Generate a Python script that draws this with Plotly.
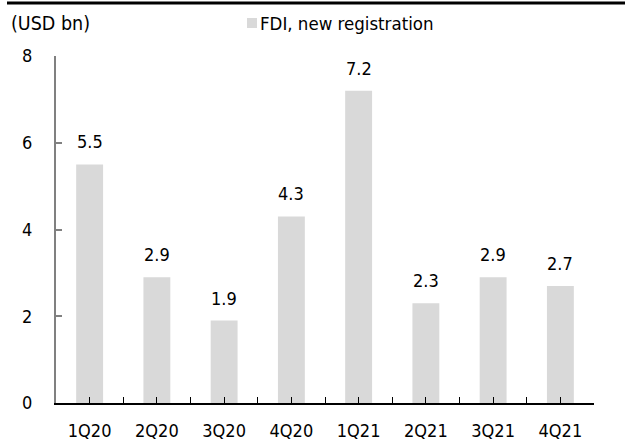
import plotly.graph_objects as go

categories = ["1Q20", "2Q20", "3Q20", "4Q20", "1Q21", "2Q21", "3Q21", "4Q21"]
fdi_values = [5.5, 2.9, 1.9, 4.3, 7.2, 2.3, 2.9, 2.7]
value_labels = ["5.5", "2.9", "1.9", "4.3", "7.2", "2.3", "2.9", "2.7"]
y_ticks = [0, 2, 4, 6, 8]
series_name = "FDI, new registration"
unit_label = "(USD bn)"

FONT = "DejaVu Sans Condensed, DejaVu Sans, sans-serif"
BAR_COLOR = "#d9d9d9"
positions = list(range(len(categories)))

# plot area geometry (px)
L, R, T, B = 56, 31, 56, 39
W, H = 625, 442
PW, PH = W - L - R, H - T - B


def px_x(px):
    return (px - L) / PW


def px_y(py):
    return (H - B - py) / PH


fig = go.Figure()
fig.add_trace(go.Bar(
    x=positions, y=fdi_values, name=series_name,
    marker=dict(color=BAR_COLOR, line=dict(width=0)),
    width=0.4, showlegend=False, hoverinfo="skip",
))

annotations = []
for p, v, lab in zip(positions, fdi_values, value_labels):
    annotations.append(dict(x=p, y=v, xref="x", yref="y", text=lab,
                            showarrow=False, xanchor="center", yanchor="bottom",
                            yshift=10, font=dict(family=FONT, size=18, color="#000")))

annotations.append(dict(text=unit_label, xref="paper", yref="paper",
                        x=px_x(9), y=px_y(23), xanchor="left", yanchor="middle",
                        showarrow=False, font=dict(family=FONT, size=19.5, color="#000")))
annotations.append(dict(text=series_name, xref="paper", yref="paper",
                        x=px_x(258), y=px_y(24), xanchor="left", yanchor="middle",
                        showarrow=False, font=dict(family=FONT, size=18.5, color="#000")))

fig.update_layout(
    width=W, height=H,
    margin=dict(l=L, r=R, t=T, b=B),
    paper_bgcolor="white", plot_bgcolor="white",
    font=dict(family=FONT, size=18, color="#000000"),
    showlegend=False,
    xaxis=dict(
        range=[-0.5, len(categories) - 0.5], automargin=False,
        tickmode="array", tickvals=positions, ticktext=categories,
        ticks="inside", ticklen=6, tickcolor="#000000", tickwidth=1,
        minor=dict(tickmode="array",
                   tickvals=[p - 0.5 for p in positions] + [len(categories) - 0.5],
                   ticks="inside", ticklen=6, tickcolor="#000000", tickwidth=1),
        showline=True, linecolor="#000000", linewidth=1.5,
        showgrid=False, zeroline=False,
        ticklabelstandoff=11,
        tickfont=dict(family=FONT, size=18),
    ),
    yaxis=dict(
        range=[0, 8], automargin=False, tickmode="array", tickvals=y_ticks,
        ticks="inside", ticklen=6, tickcolor="#808080", tickwidth=1.5,
        showline=True, linecolor="#808080", linewidth=2,
        showgrid=False, zeroline=False,
        ticklabelstandoff=18,
        tickfont=dict(family=FONT, size=18),
    ),
    shapes=[
        dict(type="line", xref="paper", yref="paper",
             x0=px_x(7), x1=px_x(625), y0=px_y(3), y1=px_y(3),
             line=dict(color="#000000", width=3)),
        dict(type="rect", xref="paper", yref="paper",
             x0=px_x(247), x1=px_x(257), y0=px_y(28), y1=px_y(18),
             fillcolor=BAR_COLOR, line=dict(width=0)),
    ],
    annotations=annotations,
)

fig.write_html("out.html",
               config={"displayModeBar": False},
               post_script="document.body.style.margin='0';document.body.style.overflow='hidden';")
